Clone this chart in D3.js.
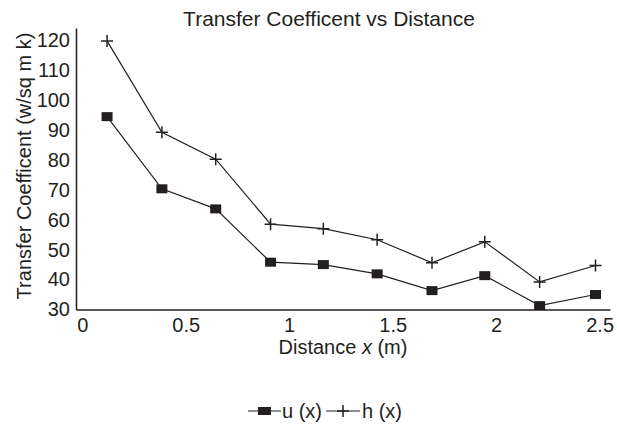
<!DOCTYPE html>
<html>
<head>
<meta charset="utf-8">
<script src="https://cdn.jsdelivr.net/npm/d3@7"></script>
<style>
  html, body { margin: 0; padding: 0; background: #fff; }
  svg { display: block; }
  text { font-family: "Liberation Sans", Arial, sans-serif; fill: #231f20; }
</style>
</head>
<body>
<svg id="chart" width="617" height="425"></svg>
<script>
// Distance along the plate (m)
const distance = [0.12, 0.385, 0.645, 0.91, 1.165, 1.425, 1.69, 1.945, 2.21, 2.48];
// Overall coefficient u(x)
const uValues = [94.4, 70.3, 63.6, 45.8, 45.0, 41.9, 36.3, 41.3, 31.3, 35.0];
// Film coefficient h(x)
const hValues = [119.7, 89.2, 80.2, 58.5, 57.0, 53.3, 45.6, 52.6, 39.2, 44.7];

const xTicks = [0, 0.5, 1, 1.5, 2, 2.5];
const yTicks = [30, 40, 50, 60, 70, 80, 90, 100, 110, 120];

const ink = "#231f20";
const svg = d3.select("#chart");

const x = d3.scaleLinear().domain([-0.03, 2.55]).range([76, 610]);
const y = d3.scaleLinear().domain([30, 124]).range([309.5, 28]);

// Axes (no tick marks, labels only)
const xAxis = svg.append("g")
  .attr("transform", `translate(0,${y(30)})`)
  .call(d3.axisBottom(x).tickValues(xTicks).tickSize(0).tickPadding(8)
    .tickFormat(d3.format("~g")));
const yAxis = svg.append("g")
  .attr("transform", `translate(${x(-0.03)},0)`)
  .call(d3.axisLeft(y).tickValues(yTicks).tickSize(0).tickPadding(6));

[xAxis, yAxis].forEach(g => {
  g.select(".domain").attr("stroke", ink).attr("stroke-width", 1.5);
  g.selectAll("text").attr("font-size", 20).style("fill", ink)
    .attr("font-family", "'Liberation Sans', Arial, sans-serif");
});

// Series lines
const line = vals => d3.line()
  .x((d, i) => x(distance[i]))
  .y(d => y(d))(vals);

svg.append("path").attr("d", line(hValues))
  .attr("fill", "none").attr("stroke", ink).attr("stroke-width", 1.2);
svg.append("path").attr("d", line(uValues))
  .attr("fill", "none").attr("stroke", ink).attr("stroke-width", 1.2);

// Square markers for u(x)
svg.append("g").selectAll("rect").data(uValues).join("rect")
  .attr("x", (d, i) => x(distance[i]) - 5.5)
  .attr("y", d => y(d) - 4.5)
  .attr("width", 11).attr("height", 9)
  .attr("fill", ink);

// Plus markers for h(x)
const plus = (cx, cy, s) => `M${cx - s},${cy}H${cx + s}M${cx},${cy - s}V${cy + s}`;
svg.append("g").selectAll("path").data(hValues).join("path")
  .attr("d", (d, i) => plus(x(distance[i]), y(d), 6))
  .attr("stroke", ink).attr("stroke-width", 1.5).attr("fill", "none");

// Titles
svg.append("text").attr("x", 329).attr("y", 26)
  .attr("text-anchor", "middle").attr("font-size", 21)
  .text("Transfer Coefficent vs Distance");

const xTitle = svg.append("text").attr("x", 343).attr("y", 354)
  .attr("text-anchor", "middle").attr("font-size", 20);
xTitle.append("tspan").text("Distance ");
xTitle.append("tspan").attr("font-style", "italic").text("x");
xTitle.append("tspan").text(" (m)");

svg.append("text")
  .attr("transform", "translate(31,166) rotate(-90)")
  .attr("text-anchor", "middle").attr("font-size", 20)
  .text("Transfer Coefficent (w/sq m k)");

// Legend
const legY = 411;
const leg = svg.append("g");
leg.append("line").attr("x1", 248).attr("x2", 281).attr("y1", legY).attr("y2", legY)
  .attr("stroke", ink).attr("stroke-width", 1.2);
leg.append("rect").attr("x", 258).attr("y", legY - 4).attr("width", 13).attr("height", 8)
  .attr("fill", ink);
leg.append("text").attr("x", 282).attr("y", legY + 7).attr("font-size", 20).text("u (x)");
leg.append("line").attr("x1", 326).attr("x2", 360).attr("y1", legY).attr("y2", legY)
  .attr("stroke", ink).attr("stroke-width", 1.2);
leg.append("path").attr("d", plus(343, legY, 6))
  .attr("stroke", ink).attr("stroke-width", 1.5);
leg.append("text").attr("x", 362).attr("y", legY + 7).attr("font-size", 20).text("h (x)");
</script>
</body>
</html>
